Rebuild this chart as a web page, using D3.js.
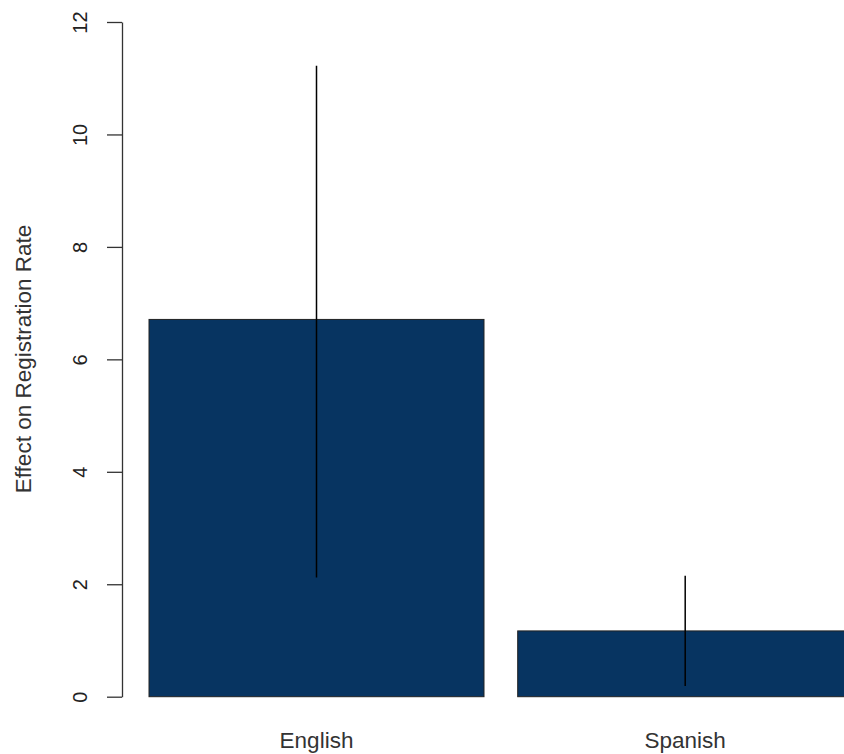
<!DOCTYPE html>
<html lang="en">
<head>
  <meta charset="UTF-8">
  <title>Effect on Registration Rate</title>
  <script src="https://d3js.org/d3.v7.min.js"></script>
  <style>
    body { margin: 0; background: #fff; }
    text { font-family: "Liberation Sans", Arial, sans-serif; fill: #222; }
  </style>
</head>
<body>
  <div id="chart"></div>

  <script>
    // data
    const categories = ["English", "Spanish"];
    const effects = [6.71, 1.17];
    const lower = [2.12, 0.19];
    const upper = [11.22, 2.15];
    const yTicks = [0, 2, 4, 6, 8, 10, 12];

    const width = 844, height = 754;

    const svg = d3.select("#chart").append("svg")
      .attr("width", width)
      .attr("height", height);

    const y = d3.scaleLinear()
      .domain([0, 12])
      .range([696.7, 22]);

    const x = d3.scaleBand()
      .domain(categories)
      .range([149, 852.7])
      .paddingInner(0.0914)
      .paddingOuter(0);

    // bars
    svg.selectAll(".bar")
      .data(categories)
      .enter()
      .append("rect")
      .attr("class", "bar")
      .attr("x", d => x(d))
      .attr("y", (d, i) => y(effects[i]))
      .attr("width", x.bandwidth())
      .attr("height", (d, i) => y(0) - y(effects[i]))
      .attr("fill", "#073461")
      .attr("stroke", "#222")
      .attr("stroke-width", 1);

    // error bars
    svg.selectAll(".err")
      .data(categories)
      .enter()
      .append("line")
      .attr("class", "err")
      .attr("x1", d => x(d) + x.bandwidth() / 2)
      .attr("x2", d => x(d) + x.bandwidth() / 2)
      .attr("y1", (d, i) => y(lower[i]))
      .attr("y2", (d, i) => y(upper[i]))
      .attr("stroke", "#000")
      .attr("stroke-width", 1.5);

    // y axis
    const yAxis = d3.axisLeft(y)
      .tickValues(yTicks)
      .tickSize(15)
      .tickSizeOuter(0)
      .tickPadding(0)
      .tickFormat(d3.format("d"));

    const gy = svg.append("g")
      .attr("transform", "translate(122,0)")
      .call(yAxis);

    gy.select(".domain").attr("stroke", "#333").attr("stroke-width", 1.3);
    gy.selectAll(".tick line").attr("stroke", "#333").attr("stroke-width", 1.3);
    gy.selectAll(".tick text")
      .attr("x", 0)
      .attr("dy", null)
      .attr("transform", "translate(-42,0) rotate(-90)")
      .attr("text-anchor", "middle")
      .attr("dominant-baseline", "central")
      .style("font-size", "20px")
      .style("font-family", "'Liberation Sans', Arial, sans-serif")
      .attr("fill", "#333");

    // x category labels
    svg.selectAll(".xlab")
      .data(categories)
      .enter()
      .append("text")
      .attr("class", "xlab")
      .attr("x", d => x(d) + x.bandwidth() / 2)
      .attr("y", 748)
      .attr("text-anchor", "middle")
      .style("font-size", "22.5px")
      .style("fill", "#333")
      .text(d => d);

    // y title
    svg.append("text")
      .attr("transform", "translate(31,359) rotate(-90)")
      .attr("text-anchor", "middle")
      .style("font-size", "22.5px")
      .style("fill", "#333")
      .text("Effect on Registration Rate");
  </script>
</body>
</html>
